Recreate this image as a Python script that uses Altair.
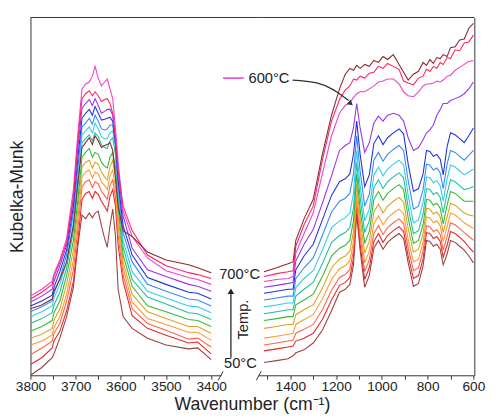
import altair as alt
import pandas as pd

# ---------------- data ----------------
temps = [50, 100, 150, 200, 250, 300, 350, 400, 450, 500, 550, 600, 650, 700]
colors = ["#9B3F3F", "#E8262B", "#FF6347", "#FF9933", "#D9A520", "#33BB33", "#1FBFA0",
          "#33CCEE", "#3388FF", "#2233DD", "#9933EE", "#F040D0", "#FF2266", "#8B2A2A"]

# O-H region (left panel)
wn_left = [3800, 3775, 3752, 3748, 3735, 3720, 3705, 3695, 3686, 3678, 3670, 3663, 3657, 3650,
           3643, 3636, 3630, 3624, 3618, 3612, 3606, 3595, 3575, 3541, 3500, 3450, 3430, 3400]
km_left_050 = [0, 8, 18, 22, 38, 60, 90, 133, 164, 160, 166, 161, 166, 168, 153, 140, 131, 153, 170, 143, 88, 60, 48, 38, 31, 27, 28, 16]
km_left_100 = [11, 18, 28, 35, 45, 66, 96, 138, 180, 186, 188, 181, 188, 185, 178, 173, 168, 183, 190, 173, 133, 96, 61, 48, 41, 33, 34, 22]
km_left_150 = [21, 28, 35, 43, 53, 76, 108, 150, 193, 198, 200, 192, 198, 196, 188, 184, 180, 194, 200, 182, 143, 103, 68, 53, 46, 37, 38, 29]
km_left_200 = [31, 35, 41, 49, 60, 83, 118, 160, 203, 208, 210, 202, 208, 206, 198, 194, 190, 204, 210, 192, 153, 110, 75, 58, 52, 44, 44, 36]
km_left_250 = [38, 42, 48, 56, 68, 93, 128, 170, 213, 218, 220, 212, 218, 216, 208, 203, 200, 213, 220, 203, 163, 116, 83, 65, 58, 50, 50, 43]
km_left_300 = [45, 50, 56, 64, 76, 102, 138, 180, 223, 228, 232, 223, 228, 226, 218, 214, 212, 223, 228, 213, 173, 123, 91, 71, 65, 57, 56, 50]
km_left_350 = [53, 58, 64, 72, 85, 110, 148, 193, 238, 242, 246, 240, 248, 244, 236, 233, 232, 240, 243, 226, 183, 131, 98, 80, 73, 64, 63, 57]
km_left_400 = [60, 65, 71, 79, 93, 116, 156, 203, 246, 250, 254, 248, 258, 252, 244, 242, 242, 248, 250, 233, 190, 138, 106, 86, 79, 71, 70, 64]
km_left_450 = [65, 70, 76, 84, 99, 123, 166, 213, 254, 258, 263, 257, 266, 260, 252, 251, 252, 256, 256, 238, 196, 146, 116, 93, 86, 78, 77, 71]
km_left_500 = [71, 76, 82, 90, 106, 128, 173, 223, 263, 268, 272, 266, 275, 268, 261, 262, 263, 264, 260, 238, 200, 153, 123, 100, 93, 85, 84, 78]
km_left_550 = [75, 81, 88, 96, 112, 133, 180, 233, 273, 278, 282, 276, 283, 276, 268, 270, 272, 272, 266, 243, 208, 163, 130, 108, 101, 93, 91, 86]
km_left_600 = [81, 88, 96, 104, 118, 140, 190, 248, 293, 298, 300, 306, 316, 304, 296, 300, 303, 293, 283, 253, 218, 168, 142, 120, 107, 100, 98, 93]
km_left_650 = [78, 85, 93, 101, 116, 136, 183, 240, 283, 288, 291, 286, 290, 286, 280, 282, 283, 278, 268, 243, 210, 173, 148, 123, 112, 105, 103, 99]
km_left_700 = [68, 72, 78, 86, 98, 116, 153, 198, 233, 238, 243, 236, 245, 240, 233, 235, 236, 238, 230, 203, 173, 148, 142, 126, 118, 113, 110, 105]

# framework region (right panel)
wn_right = [1515, 1460, 1410, 1388, 1376, 1340, 1300, 1260, 1220, 1185, 1160, 1140, 1124, 1110,
            1095, 1075, 1055, 1035, 1015, 995, 975, 950, 925, 905, 885, 862, 840, 820, 805, 790,
            775, 760, 745, 732, 715, 700, 680, 660, 640, 620, 600]
km_right_050 = [13, 15, 17, 20, 23, 26, 33, 46, 66, 85, 88, 93, 113, 165, 128, 90, 102, 130, 138, 129, 136, 141, 145, 140, 115, 91, 94, 112, 138, 137, 132, 134, 129, 113, 124, 138, 136, 132, 128, 122, 115]
km_right_100 = [25, 27, 29, 30, 35, 38, 43, 57, 77, 92, 95, 100, 120, 171, 134, 98, 110, 137, 145, 136, 143, 148, 152, 147, 122, 99, 102, 119, 146, 145, 140, 142, 137, 121, 133, 147, 145, 141, 137, 131, 126]
km_right_150 = [31, 33, 35, 36, 43, 47, 52, 67, 87, 100, 103, 108, 128, 178, 142, 106, 118, 145, 153, 144, 151, 156, 160, 155, 130, 107, 110, 127, 153, 152, 147, 149, 144, 128, 142, 156, 154, 150, 146, 142, 138]
km_right_200 = [38, 40, 42, 43, 52, 57, 62, 78, 98, 109, 112, 117, 137, 186, 150, 115, 127, 155, 163, 154, 161, 166, 170, 165, 139, 116, 119, 136, 162, 161, 156, 158, 153, 137, 152, 166, 164, 160, 156, 153, 150]
km_right_250 = [48, 50, 52, 52, 62, 67, 72, 89, 110, 119, 122, 127, 147, 196, 160, 125, 137, 167, 175, 166, 173, 178, 182, 177, 150, 126, 129, 145, 171, 170, 165, 167, 162, 146, 162, 176, 174, 170, 166, 164, 163]
km_right_300 = [56, 58, 60, 60, 72, 77, 83, 101, 122, 130, 133, 138, 158, 206, 170, 135, 147, 180, 188, 179, 186, 191, 195, 190, 161, 135, 138, 154, 180, 179, 174, 176, 171, 155, 174, 188, 186, 182, 178, 178, 178]
km_right_350 = [63, 65, 67, 67, 81, 88, 95, 114, 136, 143, 146, 151, 171, 218, 182, 146, 158, 192, 200, 191, 198, 203, 207, 202, 172, 145, 148, 165, 191, 190, 185, 187, 182, 166, 186, 200, 198, 194, 190, 191, 193]
km_right_400 = [70, 72, 74, 74, 90, 99, 107, 128, 151, 158, 161, 166, 186, 230, 194, 158, 170, 205, 213, 204, 211, 216, 220, 215, 184, 156, 159, 177, 203, 202, 197, 199, 194, 178, 201, 215, 213, 209, 205, 208, 211]
km_right_450 = [77, 79, 81, 81, 99, 110, 120, 143, 167, 178, 181, 186, 206, 245, 209, 173, 185, 220, 228, 219, 226, 231, 235, 230, 199, 170, 173, 190, 216, 215, 210, 212, 207, 191, 216, 230, 228, 224, 220, 225, 230]
km_right_500 = [84, 86, 88, 88, 108, 122, 134, 159, 184, 198, 201, 206, 226, 260, 226, 193, 205, 237, 245, 236, 243, 248, 252, 247, 216, 188, 191, 206, 230, 229, 224, 226, 221, 205, 234, 248, 246, 242, 238, 245, 253]
km_right_550 = [90, 92, 94, 95, 117, 134, 149, 176, 204, 230, 235, 238, 253, 278, 253, 228, 238, 258, 265, 260, 266, 268, 266, 260, 243, 230, 233, 241, 248, 251, 256, 266, 272, 278, 278, 281, 283, 285, 288, 293, 300]
km_right_600 = [96, 98, 99, 101, 125, 145, 166, 206, 245, 268, 276, 279, 284, 288, 290, 290, 293, 296, 300, 301, 303, 303, 298, 290, 286, 285, 290, 296, 298, 298, 299, 301, 300, 302, 306, 307, 312, 315, 318, 321, 322]
km_right_650 = [101, 104, 106, 107, 132, 154, 173, 220, 260, 282, 292, 296, 303, 302, 306, 304, 309, 310, 316, 314, 319, 316, 313, 301, 299, 297, 304, 306, 313, 311, 316, 314, 320, 318, 325, 324, 333, 332, 340, 341, 348]
km_right_700 = [106, 110, 114, 116, 138, 160, 180, 226, 266, 293, 308, 314, 312, 317, 314, 318, 316, 322, 320, 326, 323, 328, 318, 310, 302, 308, 311, 320, 317, 323, 319, 325, 324, 328, 326, 335, 336, 343, 344, 355, 360]

# annotation arrow (wavenumber, K-M) pointing at the 600 C curve
arrow_wn = [1390, 1284, 1211, 1168, 1145]
arrow_km = [302, 299, 292, 285, 281]

left_series = [km_left_050, km_left_100, km_left_150, km_left_200, km_left_250, km_left_300, km_left_350,
               km_left_400, km_left_450, km_left_500, km_left_550, km_left_600, km_left_650, km_left_700]
right_series = [km_right_050, km_right_100, km_right_150, km_right_200, km_right_250, km_right_300, km_right_350,
                km_right_400, km_right_450, km_right_500, km_right_550, km_right_600, km_right_650, km_right_700]


def long_table(wns, series):
    rows = []
    for t, s in zip(temps, series):
        for w, v in zip(wns, s):
            rows.append({"temp": t, "wn": w, "km": v})
    return pd.DataFrame(rows)


df_left = long_table(wn_left, left_series)
df_right = long_table(wn_right, right_series)
df_arrow = pd.DataFrame({"wn": arrow_wn, "km": arrow_km})
df_arrow_tip = pd.DataFrame({"wn": [1136], "km": [278]})
one = pd.DataFrame({"a": [0]})

# ---------------- style ----------------
FONT = "Liberation Sans"
AX = "#333333"
TXT = "#222222"
H = 366
W_L, W_R, GAP = 195, 221, 38

color_enc = alt.Color("temp:O", scale=alt.Scale(domain=temps, range=colors), legend=None)

xl = alt.X("wn:Q",
           scale=alt.Scale(domain=[3378, 3800], reverse=True, nice=False, zero=False),
           axis=alt.Axis(title=None, values=list(range(3400, 3801, 50)), format="d",
                         labelExpr="datum.value % 100 == 0 ? datum.label : ''",
                         tickSize=4, labelFontSize=14, labelFont=FONT, labelColor=TXT,
                         labelFlush=False, labelOverlap=False, labelPadding=1,
                         domainColor=AX, tickColor=AX, grid=False))
yl = alt.Y("km:Q", scale=alt.Scale(domain=[0, 366], nice=False, zero=False),
           axis=alt.Axis(title="Kubelka-Munk", labels=False, ticks=False, grid=False,
                         domainColor=AX, titleFontSize=18, titleFont=FONT,
                         titleFontWeight="normal", titlePadding=4, titleColor=TXT))

xr = alt.X("wn:Q",
           scale=alt.Scale(domain=[596, 1540], reverse=True, nice=False, zero=False),
           axis=alt.Axis(title=None, values=list(range(600, 1501, 100)), format="d",
                         labelExpr="datum.value % 200 == 0 ? datum.label : ''",
                         tickSize=4, labelFontSize=14, labelFont=FONT, labelColor=TXT,
                         labelFlush=False, labelOverlap=False, labelPadding=1,
                         domainColor=AX, tickColor=AX, grid=False))
yr = alt.Y("km:Q", scale=alt.Scale(domain=[0, 366], nice=False, zero=False),
           axis=alt.Axis(title=None, orient="right", labels=False, ticks=False, grid=False,
                         domainColor=AX))

# ---------------- left panel ----------------
left_lines = alt.Chart(df_left).mark_line(strokeWidth=1.1, clip=True).encode(
    x=xl, y=yl, color=color_enc, detail="temp:O")

top_left = alt.Chart(one).mark_rule(color=AX, strokeWidth=1).encode(
    x=alt.value(0), x2=alt.value(W_L + GAP), y=alt.value(0))
brk_left = alt.Chart(one).mark_rule(color=AX, strokeWidth=1).encode(
    x=alt.value(W_L - 3), x2=alt.value(W_L + 2), y=alt.value(H + 5), y2=alt.value(H - 4))

t700 = alt.Chart(one).mark_text(text="700°C", align="left", baseline="middle", fontSize=15,
                                font=FONT, color=TXT).encode(x=alt.value(193), y=alt.value(262))
t50 = alt.Chart(one).mark_text(text="50°C", align="left", baseline="middle", fontSize=15,
                               font=FONT, color=TXT).encode(x=alt.value(198), y=alt.value(354))
ttemp = alt.Chart(one).mark_text(text="Temp.", align="center", baseline="middle", fontSize=15,
                                 angle=270, font=FONT, color=TXT).encode(x=alt.value(217), y=alt.value(309))
temp_arrow = alt.Chart(one).mark_rule(color=TXT, strokeWidth=1.3).encode(
    x=alt.value(205), y=alt.value(348), y2=alt.value(282))
temp_head = alt.Chart(one).mark_point(shape="triangle-up", filled=True, size=45, color=TXT, opacity=1).encode(
    x=alt.value(205), y=alt.value(280))

left = alt.layer(left_lines, top_left, brk_left, t700, t50, ttemp, temp_arrow, temp_head).properties(
    width=W_L, height=H)

# ---------------- right panel ----------------
right_lines = alt.Chart(df_right).mark_line(strokeWidth=1.1, clip=True).encode(
    x=xr, y=yr, color=color_enc, detail="temp:O")

top_right = alt.Chart(one).mark_rule(color=AX, strokeWidth=1).encode(
    x=alt.value(0), x2=alt.value(W_R), y=alt.value(0))
brk_right = alt.Chart(one).mark_rule(color=AX, strokeWidth=1).encode(
    x=alt.value(-2), x2=alt.value(3), y=alt.value(H + 5), y2=alt.value(H - 4))

leg_line = alt.Chart(one).mark_rule(color="#F040D0", strokeWidth=1.6).encode(
    x=alt.value(-36), x2=alt.value(-15), y=alt.value(62))
leg_text = alt.Chart(one).mark_text(text="600°C", align="left", baseline="middle", fontSize=15,
                                    font=FONT, color=TXT).encode(x=alt.value(-10), y=alt.value(62))
ann_line = alt.Chart(df_arrow).mark_line(color=AX, strokeWidth=1.3, interpolate="monotone").encode(
    x=xr, y=yr)
ann_head = alt.Chart(df_arrow_tip).mark_point(shape="triangle-up", angle=130, filled=True, size=40,
                                              color=AX, opacity=1).encode(x=xr, y=yr)
x_title = alt.Chart(one).mark_text(text="Wavenumber (cm⁻¹)", align="center", baseline="middle",
                                   fontSize=18, font=FONT, color=TXT).encode(
    x=alt.value(-6), y=alt.value(H + 31))

right = alt.layer(right_lines, top_right, brk_right, leg_line, leg_text, ann_line, ann_head, x_title).properties(
    width=W_R, height=H)

chart = alt.hconcat(left, right, spacing=GAP, bounds="flush").resolve_scale(
    x="independent", y="independent", color="shared"
).properties(
    padding={"left": 1, "top": 4, "right": 4, "bottom": 0},
    background="white"
).configure_view(strokeWidth=0, stroke="transparent")

chart.save("out.html", embed_options={"renderer": "svg", "actions": False})
